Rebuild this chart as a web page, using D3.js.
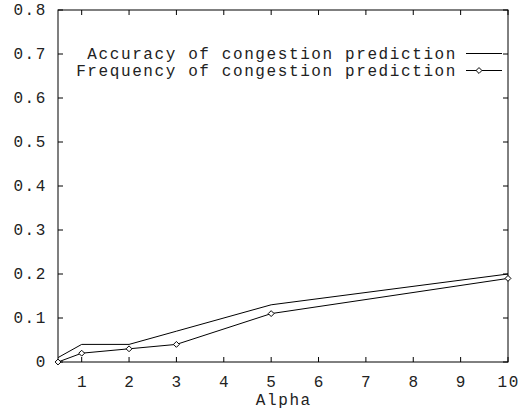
<!DOCTYPE html>
<html>
<head>
<meta charset="utf-8">
<script src="https://cdn.jsdelivr.net/npm/d3@7"></script>
<style>
  html, body { margin: 0; padding: 0; background: #fff; }
  svg { display: block; }
  text { font-family: "Liberation Mono", "Courier New", monospace; font-size: 16px; letter-spacing: 1.6px; fill: #222; }
</style>
</head>
<body>
<svg id="chart" width="530" height="415"></svg>
<script>
// Alpha values sampled and the two measured series
const alphas = [0.5, 1, 2, 3, 5, 10];
const accuracy = [0.01, 0.04, 0.04, 0.07, 0.13, 0.20];
const frequency = [0.00, 0.02, 0.03, 0.04, 0.11, 0.19];
const xTicks = [1, 2, 3, 4, 5, 6, 7, 8, 9, 10];
const yTicks = [0, 0.1, 0.2, 0.3, 0.4, 0.5, 0.6, 0.7, 0.8];
const seriesNames = ["Accuracy of congestion prediction", "Frequency of congestion prediction"];

const svg = d3.select("#chart");
const m = { left: 58, right: 508, top: 10, bottom: 362 };

const x = d3.scaleLinear().domain([0.5, 10]).range([m.left, m.right]);
const y = d3.scaleLinear().domain([0, 0.8]).range([m.bottom, m.top]);

const tickLen = 5;
const g = svg.append("g");

// Inward ticks on all four sides
xTicks.forEach(t => {
  g.append("line").attr("x1", x(t)).attr("x2", x(t)).attr("y1", m.bottom).attr("y2", m.bottom - tickLen).attr("stroke", "#000");
  g.append("line").attr("x1", x(t)).attr("x2", x(t)).attr("y1", m.top).attr("y2", m.top + tickLen).attr("stroke", "#000");
  g.append("text").attr("x", x(t) + 0.8).attr("y", 387).attr("text-anchor", "middle").text(d3.format("d")(t));
});
yTicks.forEach(t => {
  g.append("line").attr("x1", m.left).attr("x2", m.left + tickLen).attr("y1", y(t)).attr("y2", y(t)).attr("stroke", "#000");
  g.append("line").attr("x1", m.right).attr("x2", m.right - tickLen).attr("y1", y(t)).attr("y2", y(t)).attr("stroke", "#000");
  g.append("text").attr("x", 47).attr("y", y(t) + 5).attr("text-anchor", "end").text(t === 0 ? "0" : d3.format(".1f")(t));
});

// Plot frame
g.append("rect").attr("x", m.left).attr("y", m.top)
  .attr("width", m.right - m.left).attr("height", m.bottom - m.top)
  .attr("fill", "none").attr("stroke", "#000").attr("stroke-width", 1);

g.append("text").attr("x", (m.left + m.right) / 2 + 0.8).attr("y", 405).attr("text-anchor", "middle").text("Alpha");

const line = d3.line().x(d => x(d[0])).y(d => y(d[1]));
const accPts = alphas.map((a, i) => [a, accuracy[i]]);
const freqPts = alphas.map((a, i) => [a, frequency[i]]);

g.append("path").attr("d", line(accPts)).attr("fill", "none").attr("stroke", "#000").attr("stroke-width", 1);
g.append("path").attr("d", line(freqPts)).attr("fill", "none").attr("stroke", "#000").attr("stroke-width", 1);

const diamond = d3.symbol().type(d3.symbolDiamond2).size(22);
g.selectAll(".pt").data(freqPts).enter().append("path")
  .attr("transform", d => `translate(${x(d[0])},${y(d[1])})`)
  .attr("d", diamond).attr("fill", "#fff").attr("stroke", "#000").attr("stroke-width", 1);

// Legend
const legY = [53.5, 70.5];
seriesNames.forEach((name, i) => {
  g.append("text").attr("x", 457).attr("y", legY[i] + 5).attr("text-anchor", "end").text(name);
  g.append("line").attr("x1", 466).attr("x2", 502).attr("y1", legY[i]).attr("y2", legY[i]).attr("stroke", "#000");
});
g.append("path").attr("transform", `translate(479,${legY[1]})`).attr("d", diamond)
  .attr("fill", "#fff").attr("stroke", "#000").attr("stroke-width", 1);
</script>
</body>
</html>
